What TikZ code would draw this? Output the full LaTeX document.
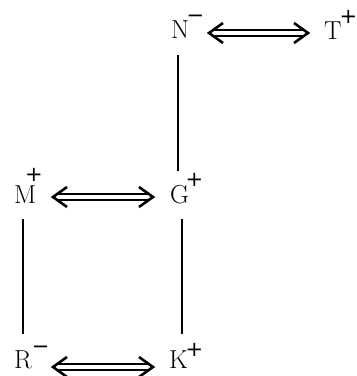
\documentclass[tikz,border=0pt]{standalone}
\usepackage{fontspec}
\newfontfamily\supfont{DejaVu Sans}
\newcommand\chg[2]{\raisebox{#1}{\supfont\fontsize{21}{21}\selectfont #2}}
\begin{document}
\begin{tikzpicture}[x=1pt,y=-1pt,
  lbl/.style={inner sep=0pt,anchor=base west,font=\fontsize{26}{30}\selectfont},
  conn/.style={line width=2.5pt,black},
  dbl/.style={double,double distance=3.4pt,line width=2.4pt,black},
  head/.style={line width=2.6pt,black,miter limit=10}]
\useasboundingbox (0,0) rectangle (357,376);
\node[lbl] (N) at (171,38) {N\hspace{-2.5pt}\chg{15.3pt}{−}};
\node[lbl] (T) at (324,39) {T\hspace{-2pt}\chg{15.3pt}{+}};
\node[lbl] (M) at (14,203) {M\hspace{-11.3pt}\chg{21.3pt}{+}};
\node[lbl] (G) at (170,203) {G\hspace{-3.5pt}\chg{16.3pt}{+}};
\node[lbl] (R) at (14,368) {R\chg{14.3pt}{−}};
\node[lbl] (K) at (169,368) {K\hspace{-2.2pt}\chg{11.3pt}{+}};
\coordinate (n1) at (209,33); \coordinate (t1) at (308,33);
\coordinate (m1) at (53,197); \coordinate (g1) at (153,197);
\coordinate (r1) at (53,367); \coordinate (k1) at (153,367);
\coordinate (ng1) at (178,55); \coordinate (ng2) at (178,171);
\coordinate (mr1) at (23,219); \coordinate (mr2) at (23,334);
\coordinate (gk1) at (182,219); \coordinate (gk2) at (182,334);
\foreach \a/\b in {n1/t1,m1/g1,r1/k1}{
  \draw[dbl,shorten <=4pt,shorten >=4pt] (\a) -- (\b);
  \draw[head] (\a) ++(14,-10) -- (\a) -- ++(14,10);
  \draw[head] (\b) ++(-14,-10) -- (\b) -- ++(-14,10);
}
\draw[conn] (ng1) -- (ng2);
\draw[conn] (mr1) -- (mr2);
\draw[conn] (gk1) -- (gk2);
\end{tikzpicture}
\end{document}
